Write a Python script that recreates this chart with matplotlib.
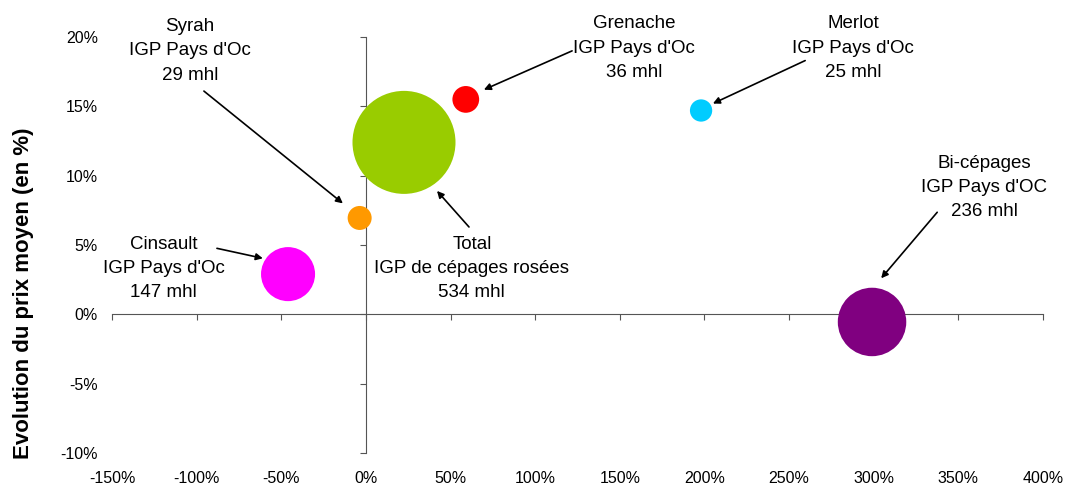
import matplotlib.pyplot as plt
from matplotlib.ticker import FuncFormatter

plt.rcParams['font.family'] = ['Liberation Sans', 'DejaVu Sans']

# bubble data: evolution of volume (x, %), evolution of average price (y, %), volume (mhl)
names = ["Syrah", "Grenache", "Merlot", "Total", "Cinsault", "Bi-cépages"]
vol_change = [-3.7, 59, 198, 22.5, -46, 299]
price_change = [6.95, 15.5, 14.7, 12.4, 2.9, -0.55]
volumes = [29, 36, 25, 534, 147, 236]
colors = ["#FF9900", "#FF0000", "#00CCFF", "#99CC00", "#FF00FF", "#800080"]

labels = [
    "Syrah\nIGP Pays d'Oc\n29 mhl",
    "Grenache\nIGP Pays d'Oc\n36 mhl",
    "Merlot\nIGP Pays d'Oc\n25 mhl",
    "Total\nIGP de cépages rosées\n534 mhl",
    "Cinsault\nIGP Pays d'Oc\n147 mhl",
    "Bi-cépages\nIGP Pays d'OC\n236 mhl",
]
# label centre, arrow start, arrow tip (data coords)
label_pos = [(-104, 19.0), (158.4, 19.2), (287.8, 19.2), (62.6, 3.3), (-119.4, 3.3), (365.2, 9.16)]
arrow_from = [(-95.7, 16.1), (121.8, 19.0), (259.5, 18.3), (60.9, 6.3), (-88, 4.76), (337.5, 7.36)]
arrow_to = [(-13.6, 8.0), (69.7, 16.2), (205, 15.2), (42, 8.9), (-60.9, 4.04), (304.4, 2.6)]

xticks = list(range(-150, 401, 50))
yticks = list(range(-10, 21, 5))

W, H = 1067, 488
fig = plt.figure(figsize=(W / 100, H / 100), dpi=100)
rect = [112 / W, 1 - 453 / H, (1043 - 112) / W, (453 - 37) / H]

# axes with the crossing axis lines at zero
ax = fig.add_axes(rect)
ax.set_xlim(-150, 400)
ax.set_ylim(-10, 20)
axis_col = "#555555"
for side in ["top", "right"]:
    ax.spines[side].set_visible(False)
ax.spines["left"].set_position(("data", 0))
ax.spines["bottom"].set_position(("data", 0))
ax.spines["left"].set_color(axis_col)
ax.spines["bottom"].set_color(axis_col)
ax.set_xticks(xticks)
ax.set_yticks(yticks)
ax.tick_params(axis="both", direction="out", length=4, color=axis_col,
               labelbottom=False, labelleft=False)

# overlay axes carrying the tick labels at the edges
ax2 = fig.add_axes(rect, sharex=ax, sharey=ax)
ax2.patch.set_visible(False)
for s in ax2.spines.values():
    s.set_visible(False)
ax2.tick_params(axis="x", length=0, labelsize=11.5, pad=13)
ax2.tick_params(axis="y", length=0, labelsize=11.5, pad=10)
pct = FuncFormatter(lambda v, p: f"{v:.0f}%")
ax2.xaxis.set_major_formatter(pct)
ax2.yaxis.set_major_formatter(pct)
ax2.set_ylabel("Evolution du prix moyen (en %)", fontsize=16, fontweight="bold")
ax2.yaxis.set_label_coords(-0.084, 0.385)

sizes = [10.3 * v for v in volumes]
ax.scatter(vol_change, price_change, s=sizes, c=colors, linewidths=0, zorder=3, clip_on=False)

for lab, lp, af, at in zip(labels, label_pos, arrow_from, arrow_to):
    ax.text(lp[0], lp[1], lab, ha="center", va="center", fontsize=13.5, linespacing=1.55)
    ax.annotate("", xy=at, xytext=af,
                arrowprops=dict(arrowstyle="-|>", color="black", lw=1.2,
                                mutation_scale=10, shrinkA=0, shrinkB=0))

fig.savefig("out.png", dpi=100)
